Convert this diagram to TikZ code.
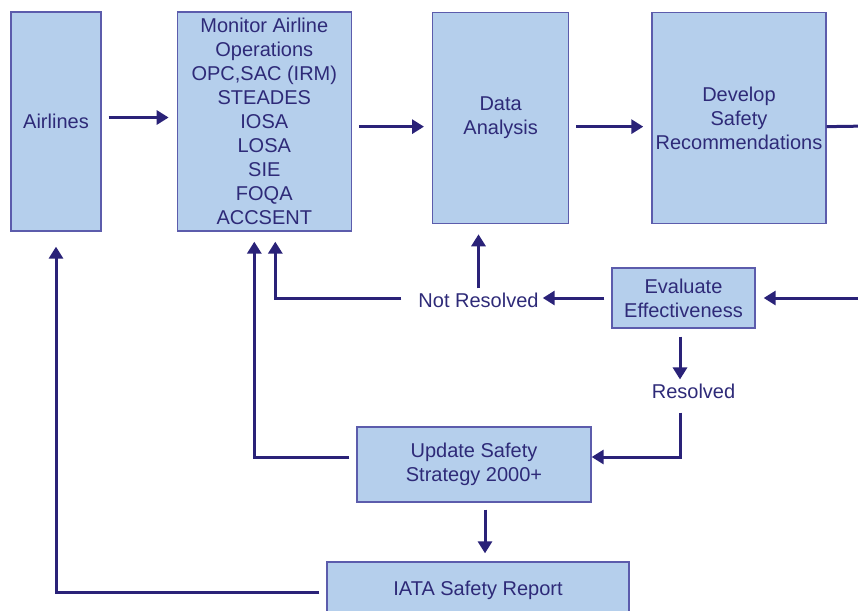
\documentclass[tikz,border=0pt]{standalone}
\usepackage{fontspec}
\setmainfont{Liberation Sans}
\usetikzlibrary{arrows.meta,positioning}
\definecolor{boxfill}{RGB}{181,207,236}
\definecolor{boxline}{RGB}{92,92,172}
\definecolor{ink}{RGB}{46,42,120}
\definecolor{flow}{RGB}{42,34,120}
\begin{document}
\begin{tikzpicture}[
      x=1pt, y=-1pt,
      box/.style={
          rectangle,
          draw=boxline,
          fill=boxfill,
          line width=1.3pt,
          text=ink,
          align=center,
          inner sep=2pt,
          font=\fontsize{20}{24}\selectfont
        },
      tag/.style={text=ink, inner sep=3pt, font=\fontsize{20}{24}\selectfont},
      arrow/.style={-{Triangle[length=12pt,width=14pt]}, line width=3pt, draw=flow},
      link/.style={line width=3pt, draw=flow}
    ]
    \clip (0,0) rectangle (858,610);

    \node[box, minimum width=90pt, minimum height=219pt] (airlines) at (56,121.5) {Airlines};

    \node[box, minimum width=174pt, minimum height=219pt, right=75pt of airlines] (monitor) {Monitor Airline\\
      Operations\\
      OPC,SAC (IRM)\\
      STEADES\\
      IOSA\\
      LOSA\\
      SIE\\
      FOQA\\
      ACCSENT};
    \draw[arrow, shorten <=7pt, shorten >=8pt] ([yshift=4pt]airlines.east) -- ([yshift=4pt]monitor.west);

    \node[box, minimum width=136pt, minimum height=211pt, anchor=north west] (data) at (432,12) {Data\\Analysis};
    \draw[arrow, shorten <=7pt, shorten >=8pt] ([yshift=-8.5pt]data.west -| monitor.east) -- ([yshift=-8.5pt]data.west);

    \node[box, minimum width=174pt, minimum height=211pt, right=82pt of data] (develop) {Develop\\Safety\\Recommendations};
    \draw[arrow, shorten <=7pt, shorten >=8pt] ([yshift=-8.5pt]data.east) -- ([yshift=-8.5pt]develop.west);

    \coordinate (outtop) at (870,126);
    \draw[link] ([yshift=-8.5pt]develop.east) -- (outtop);

    \node[box, minimum width=143pt, minimum height=60pt] (evaluate) at (683.5,298) {Evaluate\\Effectiveness};
    \coordinate (outmid) at (870,298);
    \draw[arrow, shorten >=8pt] (outmid) -- (evaluate.east);

    \node[tag] (notres) at (478.5,300) {Not Resolved};
    \draw[arrow, shorten <=7pt, shorten >=1pt] (evaluate.west) -- (evaluate.west -| notres.east);
    \draw[arrow, shorten <=14pt, shorten >=10pt] (evaluate.west -| notres.west) -| ([xshift=11pt]monitor.south);
    \draw[arrow, shorten <=1pt, shorten >=10pt] (notres.north) -- (notres.north |- data.south);

    \node[tag] (resolved) at (693.5,391) {Resolved};
    \draw[arrow, shorten <=8pt, shorten >=1pt] ([xshift=-3.5pt]evaluate.south) -- ([xshift=-3.5pt]evaluate.south |- resolved.north);

    \node[box, minimum width=234pt, minimum height=75pt] (update) at (474,464.5) {Update Safety\\Strategy 2000+};
    \draw[arrow, shorten <=11pt] ([xshift=-13.5pt]resolved.south) |- ([yshift=7.5pt]update.east);
    \draw[arrow, shorten <=7pt, shorten >=10pt] ([yshift=7.5pt]update.west) -| ([xshift=-10pt]monitor.south);

    \node[box, minimum width=302pt, minimum height=56pt] (iata) at (478,590) {IATA Safety Report};
    \draw[arrow, shorten <=7pt, shorten >=8pt] ([xshift=11pt]update.south) -- ([xshift=11pt]update.south |- iata.north);
    \draw[arrow, shorten <=7pt, shorten >=15pt] ([yshift=-2pt]iata.west) -| (airlines.south);
  \end{tikzpicture}
\end{document}
